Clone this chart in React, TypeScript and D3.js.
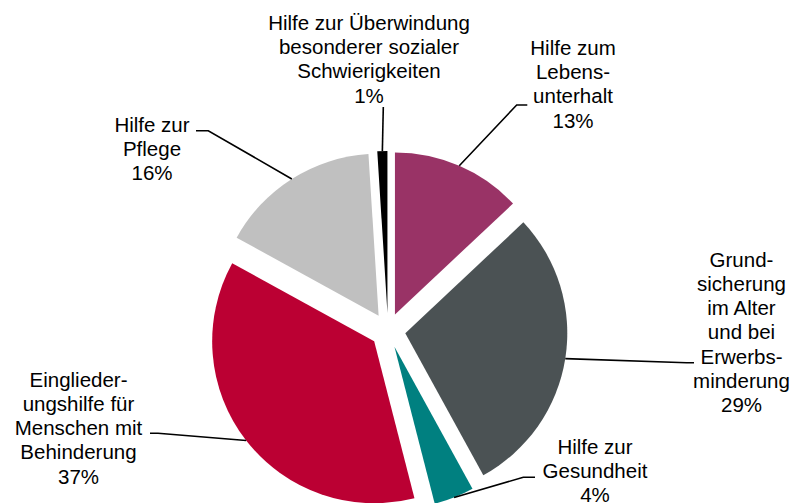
import React from 'react';
import * as d3 from 'd3';

// Sozialhilfe expenditure shares, clockwise from 12 o'clock
const categories = [
  ['Hilfe zum', 'Lebens-', 'unterhalt'],
  ['Grund-', 'sicherung', 'im Alter', 'und bei', 'Erwerbs-', 'minderung'],
  ['Hilfe zur', 'Gesundheit'],
  ['Einglieder-', 'ungshilfe für', 'Menschen mit', 'Behinderung'],
  ['Hilfe zur', 'Pflege'],
  ['Hilfe zur Überwindung', 'besonderer sozialer', 'Schwierigkeiten'],
];
const shares = [13, 29, 4, 37, 16, 1];
const colors = ['#993366', '#4b5254', '#008080', '#bb0033', '#c0c0c0', '#000000'];

// label blocks: centre x, first baseline, leader elbow and end
const labelLayout = [
  { x: 573, y: 55, elbow: [516.7, 105], end: [527.3, 105] },
  { x: 741.5, y: 266.7, elbow: [686.7, 362.7], end: [694, 362.7] },
  { x: 595, y: 453.5, elbow: [523.3, 477.3], end: [535, 477.3] },
  { x: 78.5, y: 386.7, elbow: [158, 433.3], end: [150, 433.3] },
  { x: 152, y: 131.7, elbow: [208.3, 130.7], end: [196, 130.7] },
  { x: 369, y: 30, elbow: [383.3, 107], end: [383.3, 107] },
];

const W = 795;
const H = 503;
const CX = 388;
const CY = 330.5;
const R = 162;
const EXPLODE = 17.5;
const LINE_H = 24.2;
const FONT = '"Liberation Sans", Arial, sans-serif';

export default function App() {
  const pie = d3.pie<number>().sort(null).value((d) => d);
  const arcs = pie(shares);
  const arc = d3.arc<d3.PieArcDatum<number>>().innerRadius(0).outerRadius(R);

  return (
    <svg
      width={W}
      height={H}
      style={{ position: 'absolute', left: 0, top: 0, background: '#fff' }}
    >
      <g transform={`translate(${CX},${CY})`}>
        {arcs.map((a, i) => {
          const mid = (a.startAngle + a.endAngle) / 2;
          const dx = Math.sin(mid) * EXPLODE;
          const dy = -Math.cos(mid) * EXPLODE;
          return (
            <path
              key={i}
              d={arc(a) ?? ''}
              transform={`translate(${dx},${dy})`}
              fill={colors[i]}
            />
          );
        })}
      </g>

      {/* leader lines */}
      {arcs.map((a, i) => {
        const mid = (a.startAngle + a.endAngle) / 2;
        const sx = CX + Math.sin(mid) * (R + EXPLODE);
        const sy = CY - Math.cos(mid) * (R + EXPLODE);
        const L = labelLayout[i];
        const pts = [[sx, sy], L.elbow, L.end];
        return (
          <polyline
            key={i}
            points={pts.map((p) => p.join(',')).join(' ')}
            fill="none"
            stroke="#000"
            strokeWidth={1.6}
          />
        );
      })}

      {/* labels */}
      {categories.map((lines, i) => {
        const L = labelLayout[i];
        const all = [...lines, `${shares[i]}%`];
        return (
          <text
            key={i}
            x={L.x}
            y={L.y}
            textAnchor="middle"
            fontFamily={FONT}
            fontSize={20.5}
            fill="#000"
          >
            {all.map((t, j) => (
              <tspan key={j} x={L.x} y={L.y + j * LINE_H}>
                {t}
              </tspan>
            ))}
          </text>
        );
      })}
    </svg>
  );
}
